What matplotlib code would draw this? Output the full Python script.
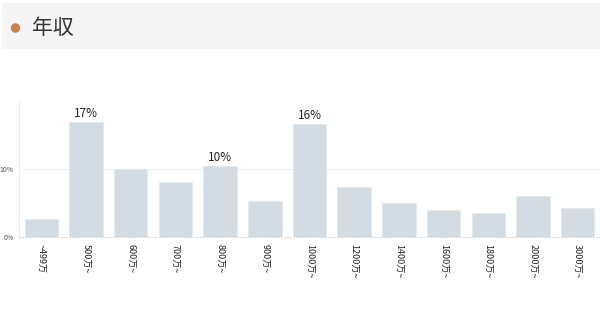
import matplotlib
matplotlib.use("Agg")
import matplotlib.pyplot as plt
from matplotlib.patches import Rectangle, Ellipse

plt.rcParams['font.family'] = ['Noto Sans CJK JP', 'DejaVu Sans']

categories = ["~499万", "500万~", "600万~", "700万~", "800万~", "900万~", "1000万~",
              "1200万~", "1400万~", "1600万~", "1800万~", "2000万~", "3000万~"]
values = [2.7, 16.9, 10.0, 8.1, 10.4, 5.3, 16.6, 7.4, 5.0, 4.0, 3.6, 6.0, 4.3]
bar_labels = ["", "17%", "", "", "10%", "", "16%", "", "", "", "", "", ""]
yticks = [0, 10]
ytick_labels = ["0%", "10%"]
title = "年収"

fig = plt.figure(figsize=(6, 3.27), dpi=100)

# header band
fig.patches.append(Rectangle((2/600, 1-49/327), 598/600, 46/327, transform=fig.transFigure,
                             facecolor="#f5f5f5", edgecolor="none", zorder=0))
fig.patches.append(Ellipse((15.5/600, 1-28/327), 9.5/600, 9.5/327, transform=fig.transFigure,
                           facecolor="#c8824a", edgecolor="none", zorder=1))
fig.text(32/600, 1-27.5/327, title, fontsize=15, color="#333333", va="center", ha="left")

ax = fig.add_axes([19/600, 90/327, 581/600, 136/327])
x = range(len(categories))
bars = ax.bar(x, values, width=0.75, color="#d3dbe3", edgecolor="#e4e9ee", linewidth=0.6, zorder=2)
for b, lab in zip(bars, bar_labels):
    if lab:
        ax.text(b.get_x() + b.get_width()/2, b.get_height() + 0.3, lab,
                ha="center", va="bottom", fontsize=8.5, color="#222222")

ax.set_xlim(-0.5, len(categories) - 0.5)
ax.set_ylim(0, 20)
ax.set_yticks(yticks)
ax.set_yticklabels(ytick_labels, fontsize=5, color="#555555")
ax.set_xticks(list(x))
ax.set_xticklabels(categories, rotation=270, fontsize=6.5, color="#222222")
ax.tick_params(axis="both", length=0, pad=4)
ax.tick_params(axis="x", pad=5)
ax.yaxis.grid(True, color="#eeeeee", linewidth=0.8, zorder=0)
ax.set_axisbelow(True)
for s in ["top", "right"]:
    ax.spines[s].set_visible(False)
ax.spines["left"].set_color("#eeeeee")
ax.spines["left"].set_linewidth(0.8)
ax.spines["bottom"].set_color("#dddddd")
ax.spines["bottom"].set_linestyle(":")
ax.spines["bottom"].set_linewidth(0.8)

fig.savefig("out.png", dpi=100)
